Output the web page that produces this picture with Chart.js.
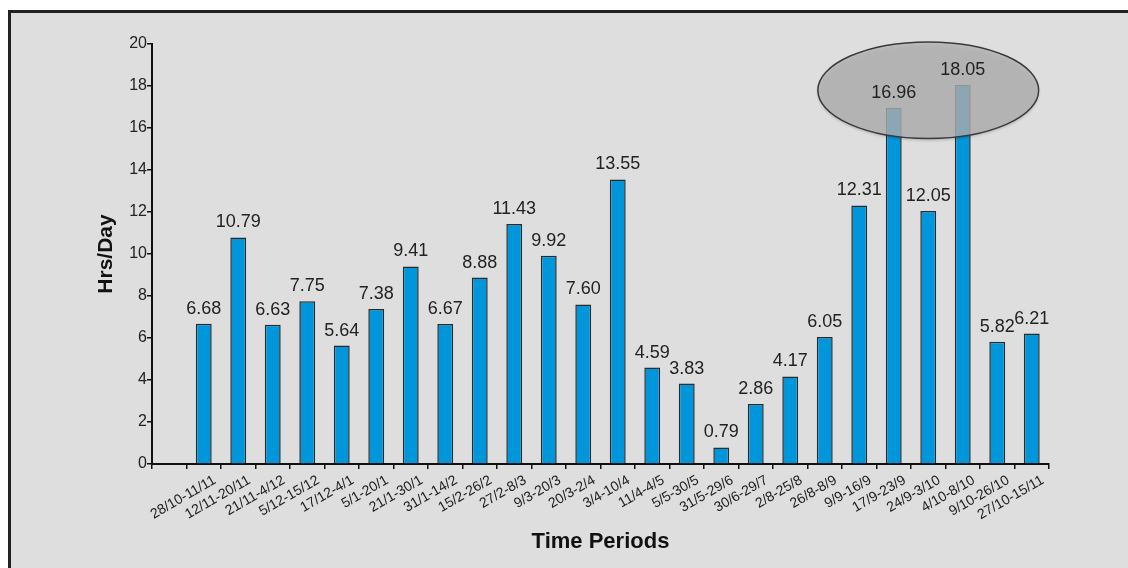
<!DOCTYPE html>
<html>
<head>
<meta charset="utf-8">
<script src="https://cdn.jsdelivr.net/npm/chart.js@4"></script>
<style>
	html, body { margin: 0; padding: 0; background: #fff; overflow: hidden; }
	#frame {
		position: absolute; left: 8px; top: 10px; right: -20px; bottom: -20px;
		border: 3px solid #222; background: #dedede;
	}
	#hoursChart { position: absolute; left: 0; top: 0; }
</style>
</head>
<body>
<div id="frame"></div>
<canvas id="hoursChart" width="1128" height="568"></canvas>
<script>
// first slot is left empty, as in the original sheet
const periods = ['', '28/10-11/11', '12/11-20/11', '21/11-4/12', '5/12-15/12', '17/12-4/1', '5/1-20/1',
	'21/1-30/1', '31/1-14/2', '15/2-26/2', '27/2-8/3', '9/3-20/3', '20/3-2/4', '3/4-10/4',
	'11/4-4/5', '5/5-30/5', '31/5-29/6', '30/6-29/7', '2/8-25/8', '26/8-8/9', '9/9-16/9',
	'17/9-23/9', '24/9-3/10', '4/10-8/10', '9/10-26/10', '27/10-15/11'];
const hoursPerDay = [null, 6.68, 10.79, 6.63, 7.75, 5.64, 7.38, 9.41, 6.67, 8.88, 11.43, 9.92, 7.60, 13.55,
	4.59, 3.83, 0.79, 2.86, 4.17, 6.05, 12.31, 16.96, 12.05, 18.05, 5.82, 6.21];
const yTicks = [0, 2, 4, 6, 8, 10, 12, 14, 16, 18, 20];
// the two peaks circled on the sheet
const circled = [21, 23];

const fontFamily = '"Liberation Sans", Arial, sans-serif';

const circleAndLabels = {
	id: 'circleAndLabels',
	afterDatasetsDraw: function(chart) {
		const ctx = chart.ctx;
		const x = chart.scales.x;
		const y = chart.scales.y;
		const slot = x.getPixelForValue(1) - x.getPixelForValue(0);

		// grey ellipse over the peaks
		const cx = (x.getPixelForValue(circled[0]) + x.getPixelForValue(circled[1])) / 2;
		const cy = y.getPixelForValue(17.8);
		const rx = slot * 3.2;
		const ry = y.getPixelForValue(15.5) - cy;
		ctx.save();
		ctx.beginPath();
		ctx.ellipse(cx, cy, rx, ry, 0, 0, Math.PI * 2);
		ctx.shadowColor = 'rgba(0,0,0,0.25)';
		ctx.shadowOffsetY = 2;
		ctx.shadowBlur = 3;
		ctx.fillStyle = 'rgba(180,180,180,0.78)';
		ctx.fill();
		ctx.shadowColor = 'transparent';
		ctx.lineWidth = 1.5;
		ctx.strokeStyle = '#3a3a3a';
		ctx.stroke();
		ctx.restore();

		// value labels
		const meta = chart.getDatasetMeta(0);
		ctx.save();
		ctx.font = '18px ' + fontFamily;
		ctx.fillStyle = '#222';
		ctx.textAlign = 'center';
		ctx.textBaseline = 'alphabetic';
		meta.data.forEach(function(bar, i) {
			const v = hoursPerDay[i];
			if (v === null) return;
			ctx.fillText(v.toFixed(2), bar.x, bar.y - 10);
		});
		ctx.restore();
	}
};

const ctx = document.getElementById('hoursChart').getContext('2d');
const hoursChart = new Chart(ctx, {
	type: 'bar',
	data: {
		labels: periods,
		datasets: [{
			data: hoursPerDay,
			backgroundColor: '#0096dc',
			borderColor: '#2a2a2a',
			borderWidth: 1.5,
			categoryPercentage: 1,
			barPercentage: 0.46
		}]
	},
	options: {
		responsive: false,
		animation: false,
		devicePixelRatio: 1,
		layout: { padding: { left: 0, top: 44, right: 79, bottom: 0 } },
		plugins: {
			legend: { display: false },
			tooltip: { enabled: false }
		},
		scales: {
			x: {
				grid: { drawOnChartArea: false, offset: true, color: '#111', lineWidth: 1.5, tickLength: 5 },
				border: { color: '#111', width: 2 },
				ticks: {
					autoSkip: false, minRotation: 30, maxRotation: 30, labelOffset: 11, padding: 3,
					color: '#222', font: { family: fontFamily, size: 14 }
				},
				title: {
					display: true, text: 'Time Periods', color: '#111',
					font: { family: fontFamily, size: 22, weight: 'bold' },
					padding: { top: 0, bottom: 13 }
				},
				afterFit: function(scale) { scale.height = 104; }
			},
			y: {
				min: 0,
				max: 20,
				afterBuildTicks: function(scale) {
					scale.ticks = yTicks.map(function(v) { return { value: v }; });
				},
				grid: { drawOnChartArea: false, color: '#111', lineWidth: 1.5, tickLength: 5 },
				border: { color: '#111', width: 2 },
				ticks: { padding: 0, color: '#222', font: { family: fontFamily, size: 16 } },
				title: {
					display: true, text: 'Hrs/Day', color: '#111',
					font: { family: fontFamily, size: 21, weight: 'bold' },
					padding: { top: 94, bottom: 0 }
				},
				afterFit: function(scale) { scale.width = 152; }
			}
		}
	},
	plugins: [circleAndLabels]
});
</script>
</body>
</html>
